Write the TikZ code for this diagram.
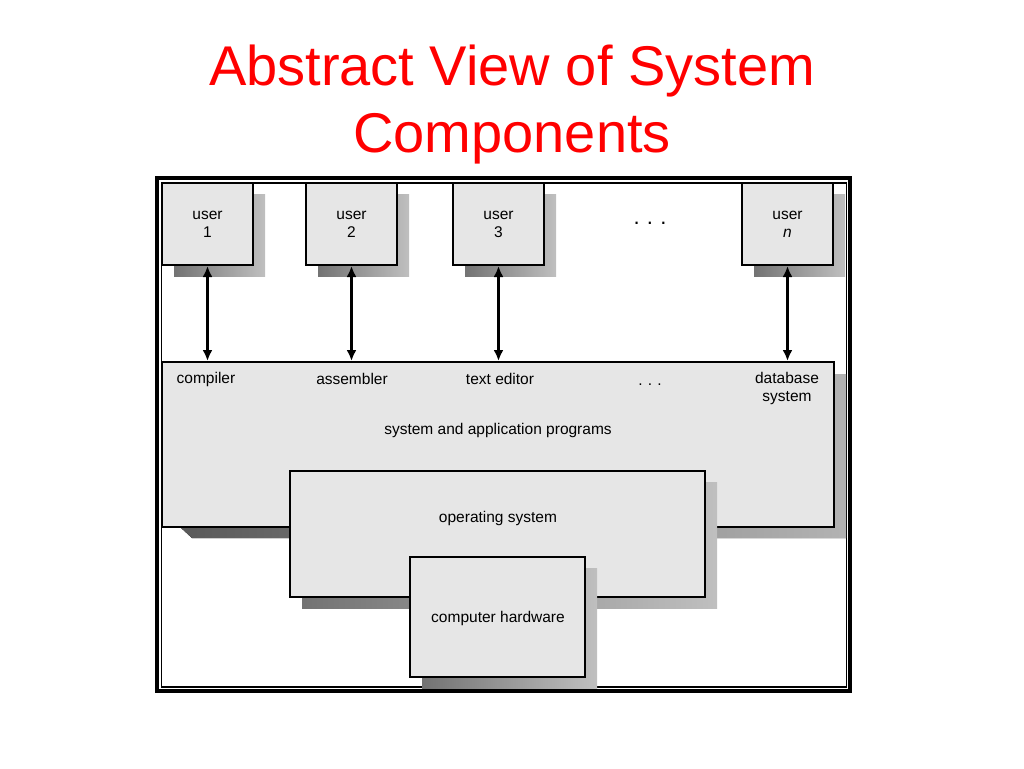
\documentclass[tikz,border=0pt]{standalone}
\usepackage{fontspec}
\setmainfont{Liberation Sans}
\usetikzlibrary{arrows.meta,shadows}

\definecolor{boxgray}{RGB}{230,230,230}
\definecolor{titlered}{RGB}{255,0,0}

\tikzset{
  lbl/.style={font=\fontsize{15.5}{18}\selectfont, inner sep=0pt},
  boxshadow/.style={drop shadow={shadow xshift=12pt, shadow yshift=-11pt,
      opacity=1, left color=black!55, right color=black!25}},
  userbox/.style={draw, line width=2pt, fill=boxgray, boxshadow,
      minimum width=91pt, minimum height=82pt, align=center, inner sep=0pt,
      font=\fontsize{15.5}{18}\selectfont},
  layerbox/.style={draw, line width=2pt, fill=boxgray, inner sep=0pt},
  link/.style={line width=3pt, {Latex[length=11pt,width=10pt]}-{Latex[length=11pt,width=10pt]}}
}

\begin{document}
\begin{tikzpicture}[x=1pt, y=-1pt]
  \useasboundingbox (0,0) rectangle (1024,768);

  % Titel
  \node[anchor=base, text=titlered, font=\fontsize{56}{60}\selectfont, inner sep=0pt] (title1) at (512,85) {Abstract View of System};
  \node[anchor=base, text=titlered, font=\fontsize{56}{60}\selectfont, inner sep=0pt] (title2) at (512,152) {Components};

  % Rahmen
  \draw[line width=4pt] (157,178) rectangle (850,691);
  \draw[line width=1.5pt] (161.5,183) rectangle (846.5,687);

  % Benutzer
  \node[userbox] (u1) at (207.5,224) {user\\1};
  \node[userbox] (u2) at (351.5,224) {user\\2};
  \node[userbox] (u3) at (498.5,224) {user\\3};
  \node[userbox] (un) at (787.5,224) {user\\\textit{n}};
  \node[font=\fontsize{22}{24}\selectfont, inner sep=0pt] (udots) at (650,223) {.\,\,.\,\,.};

  % Systemprogramme (Schatten mit schraeger Kante)
  \fill[left color=black!65, right color=black!30] (180,527) -- (192,538) -- (846,538) -- (846,374) -- (834,374) -- (834,527) -- cycle;
  \node[layerbox, minimum width=672pt, minimum height=165pt] (sysprog) at (498,444.5) {};
  \node[lbl] (comp) at (206,379) {compiler};
  \node[lbl] (asm) at (352,379) {assembler};
  \node[lbl] (edit) at (500,379) {text editor};
  \node[lbl] (pdots) at (650,385) {.\,\,.\,\,.};
  \node[lbl, align=center] (db) at (787,388) {database\\system};
  \node[lbl] (sysapp) at (498,430) {system and application programs};

  % Betriebssystem und Hardware
  \node[layerbox, boxshadow, minimum width=415pt, minimum height=126pt] (os) at (497.5,534) {};
  \node[lbl] (oslbl) at (498,518) {operating system};
  \node[layerbox, boxshadow, minimum width=175pt, minimum height=120pt] (hw) at (497.5,617) {};
  \node[lbl] (hwlbl) at (498,618) {computer hardware};

  % Pfeile
  \foreach \u in {u1,u2,u3,un}
    \draw[link] (\u.south) -- (\u.south |- sysprog.north);
\end{tikzpicture}
\end{document}
